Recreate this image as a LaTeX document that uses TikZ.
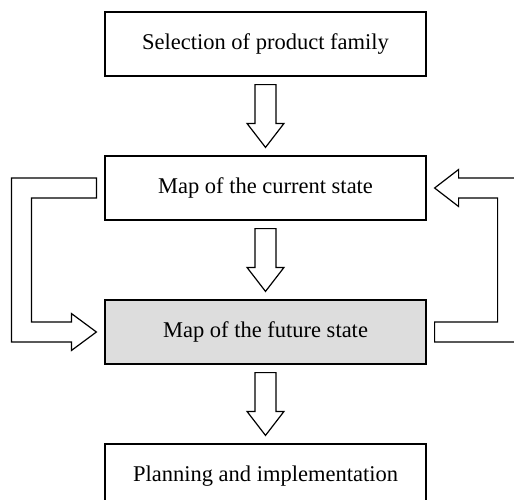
\documentclass[tikz,border=0pt]{standalone}
\usepackage{fontspec}
\setmainfont{Liberation Serif}
\usetikzlibrary{positioning,calc}

\definecolor{futuregray}{RGB}{221,221,221}

\newcommand{\blockdown}[2]{%
  \coordinate (bt) at ($(#1.south)+(0,-8)$);
  \coordinate (bh) at ($(#2.north)+(0,8)$);
  \draw[hollow] ($(bt)+(-10.5,0)$) -- ($(bh)+(-10.5,24)$) -- ($(bh)+(-18.5,24)$)
    -- (bh) -- ($(bh)+(18.5,24)$) -- ($(bh)+(10.5,24)$) -- ($(bt)+(10.5,0)$) -- cycle;}

\begin{document}
\begin{tikzpicture}[x=0.5pt,y=0.5pt,node distance=72pt,semithick,
    box/.style={draw,minimum width=160.5pt,minimum height=32pt,inner sep=0pt,
      font=\fontsize{11.25}{13}\selectfont},
    hollow/.style={draw,fill=white,line join=miter}]
  \useasboundingbox (0,0) rectangle (514,-499);
  \node[box] (sel) at (265.5,-44) {Selection of product family};
  \node[box] (cur) [below of = sel] {Map of the current state};
  \node[box, fill=futuregray] (fut) [below of = cur] {Map of the future state};
  \node[box] (plan) [below of = fut] {Planning and implementation};
  % straight arrows down
  \blockdown{sel}{cur}
  \blockdown{cur}{fut}
  \blockdown{fut}{plan}
  % current -> future, round the left side
  \draw[hollow] ($(cur.west)+(-8,10)$) -- ($(cur.west)+(-93,10)$)
    -- ($(fut.west)+(-93,-10)$) -- ($(fut.west)+(-33,-10)$)
    -- ($(fut.west)+(-33,-18.5)$) -- ($(fut.west)+(-8,0)$)
    -- ($(fut.west)+(-33,18.5)$) -- ($(fut.west)+(-33,10)$)
    -- ($(fut.west)+(-73,10)$) -- ($(cur.west)+(-73,-10)$)
    -- ($(cur.west)+(-8,-10)$) -- cycle;
  % future -> current, round the right side
  \draw[hollow] ($(fut.east)+(8,-10)$) -- ($(fut.east)+(91,-10)$)
    -- ($(cur.east)+(91,10)$) -- ($(cur.east)+(32,10)$)
    -- ($(cur.east)+(32,18.5)$) -- ($(cur.east)+(8,0)$)
    -- ($(cur.east)+(32,-18.5)$) -- ($(cur.east)+(32,-10)$)
    -- ($(cur.east)+(71,-10)$) -- ($(fut.east)+(71,10)$)
    -- ($(fut.east)+(8,10)$) -- cycle;
\end{tikzpicture}
\end{document}
